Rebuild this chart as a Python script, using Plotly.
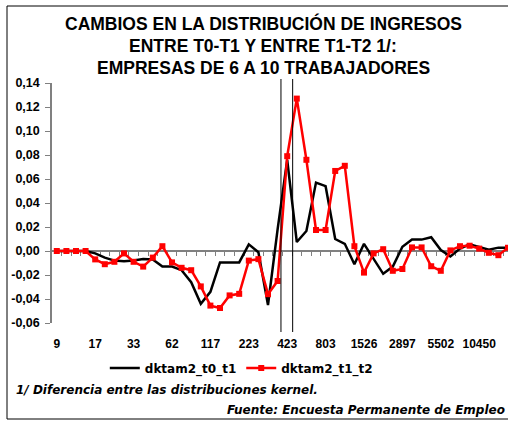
import plotly.graph_objects as go

# 48 income categories (log scale); only every 4th one is labelled
n_cat = 48
tick_labels = ["9", "17", "33", "62", "117", "223", "423", "803", "1526", "2897", "5502", "10450"]

dktam2_t0_t1 = [0, 0, 0, 0, -0.002, -0.0055, -0.008, -0.0085, -0.008, -0.0067,
                -0.007, -0.013, -0.013, -0.016, -0.026, -0.044, -0.034, -0.0095, -0.0095, -0.0095,
                0.0055, -0.001, -0.045, 0.018, 0.076, 0.0075, 0.0167, 0.057, 0.054, 0.010,
                0.006, -0.011, 0.006, -0.006, -0.019, -0.013, 0.0035, 0.0095, 0.0095, 0.0115,
                0.0008, -0.0045, 0.002, 0.0056, 0.0035, 0.001, 0.0028, 0.0028]

dktam2_t1_t2 = [0, 0, 0, 0, -0.007, -0.011, -0.009, -0.002, -0.009, -0.013,
                -0.0055, 0.004, -0.0095, -0.014, -0.016, -0.0295, -0.0455, -0.0475, -0.037, -0.0357,
                -0.008, -0.0068, -0.036, -0.025, 0.079, 0.127, 0.076, 0.0175, 0.0175, 0.0667,
                0.071, 0.004, -0.018, -0.002, 0.0015, -0.0165, -0.015, 0.003, 0.003, -0.0127,
                -0.0165, 0.0005, 0.004, 0.0044, 0.002, -0.0015, -0.0035, 0.0027]

y_ticks = [-0.06, -0.04, -0.02, 0.0, 0.02, 0.04, 0.06, 0.08, 0.10, 0.12, 0.14]
y_labels = ["-0,06", "-0,04", "-0,02", "0,00", "0,02", "0,04", "0,06", "0,08", "0,10", "0,12", "0,14"]

title_lines = ["CAMBIOS EN LA DISTRIBUCIÓN DE INGRESOS",
               "ENTRE T0-T1 Y ENTRE T1-T2 1/:",
               "EMPRESAS DE 6 A 10 TRABAJADORES"]

# vertical reference lines (category position)
vlines = [23.35, 24.57]

x = list(range(n_cat))
FONT = "Liberation Sans, Arial, sans-serif"
WIDE = "DejaVu Sans, sans-serif"
GRAY = "#808080"

# plot area in pixels: left 52, right 508, top 83, bottom 323
def px(xp):
    return (xp - 52) / 456

def py(yp):
    return (323 - yp) / 240

fig = go.Figure()
fig.add_trace(go.Scatter(x=x, y=dktam2_t0_t1, name="dktam2_t0_t1", mode="lines",
                         line=dict(color="black", width=2.5), xaxis="x", yaxis="y"))
fig.add_trace(go.Scatter(x=x, y=dktam2_t1_t2, name="dktam2_t1_t2", mode="lines+markers",
                         line=dict(color="#ff0000", width=2.5),
                         marker=dict(symbol="square", size=6, color="#ff0000"),
                         xaxis="x2", yaxis="y"))

x_range = [-0.5, 47.0]
fig.update_layout(
    width=508, height=423,
    margin=dict(l=52, r=0, t=83, b=100),
    paper_bgcolor="white", plot_bgcolor="white",
    font=dict(family=FONT, color="black"),
    showlegend=True,
    xaxis=dict(range=x_range, tickvals=list(range(0, n_cat - 3, 4)), ticktext=tick_labels,
               ticks="", showline=False, showgrid=False, zeroline=False,
               ticklabelstandoff=12,
               tickfont=dict(size=12, family=FONT, weight="bold", color="black")),
    xaxis2=dict(range=x_range, overlaying="x", anchor="free", position=0.3,
                showline=True, linecolor=GRAY, linewidth=1.5,
                ticks="outside", ticklen=4, tickcolor=GRAY, tickwidth=1,
                tickvals=[i + 0.5 for i in range(n_cat - 1)],
                showticklabels=False, showgrid=False, zeroline=False, layer="below traces"),
    yaxis=dict(range=[-0.06, 0.14], tickvals=y_ticks, ticktext=y_labels,
               ticks="outside", ticklen=5, tickcolor=GRAY, showline=True, linecolor=GRAY,
               linewidth=1.5, showgrid=False, zeroline=False, ticklabelstandoff=3,
               tickfont=dict(size=12.5, family=FONT, weight="bold", color="black")),
    legend=dict(orientation="h", xref="container", yref="container",
                x=0.475, y=0.13, xanchor="center", yanchor="middle",
                font=dict(size=12, family=WIDE, weight="bold", color="black"),
                bgcolor="rgba(0,0,0,0)"),
)

for line, yp in zip(title_lines, [23, 46, 68]):
    fig.add_annotation(text=line, xref="paper", yref="paper", x=px(263), y=py(yp),
                       xanchor="center", yanchor="middle", showarrow=False,
                       font=dict(size=17.5, family=FONT, weight="bold", color="black"))

for v in vlines:
    fig.add_shape(type="line", xref="x", yref="paper", x0=v, x1=v, y0=py(332), y1=py(79),
                  line=dict(color="black", width=1))

# frame around the whole chart
fig.add_shape(type="rect", xref="paper", yref="paper", x0=px(7), x1=px(512), y0=py(419), y1=py(6),
              line=dict(color="black", width=1))

fig.add_annotation(text="<b><i>1/ Diferencia entre las distribuciones kernel.</i></b>",
                   xref="paper", yref="paper", x=px(14), y=py(390),
                   xanchor="left", yanchor="middle", showarrow=False,
                   font=dict(size=12, family=WIDE, color="black"))
fig.add_annotation(text="<b><i>Fuente: Encuesta Permanente de Empleo</i></b>",
                   xref="paper", yref="paper", x=px(507), y=py(410),
                   xanchor="right", yanchor="middle", showarrow=False,
                   font=dict(size=12, family=WIDE, color="black"))

fig.write_html("out.html", config={"displayModeBar": False},
               post_script="document.body.style.margin='0px';")
